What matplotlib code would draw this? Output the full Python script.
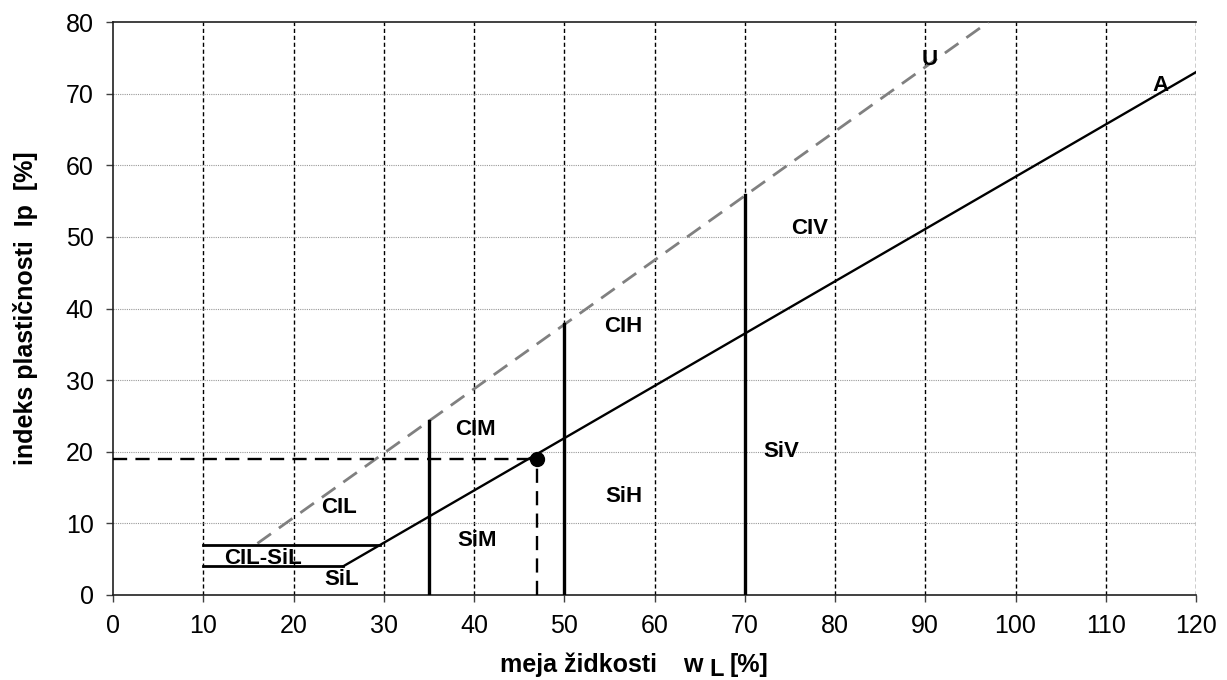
import matplotlib
matplotlib.use("Agg")
import matplotlib.pyplot as plt

plt.rcParams['font.family'] = ['Liberation Sans', 'DejaVu Sans']

# Data
a_line_x = [25.5, 120]
a_line_y = [4, 73]
u_line_x = [16, 97]
u_line_y = [7.2, 80]
low_h_x = [10, 25.5]
low_h_y = [4, 4]
up_h_x = [10, 29.6]
up_h_y = [7, 7]
vert_x = [35, 50, 70]
vert_top = [24.3, 37.8, 55.8]
point_x = 47
point_y = 19

zone_labels = ['U', 'A', 'CIV', 'CIH', 'CIM', 'SiV', 'SiH', 'CIL', 'SiM', 'CIL-SiL', 'SiL']
zone_x = [90.5, 116.1, 77.2, 56.5, 40.2, 74.0, 56.6, 25.0, 40.3, 16.65, 25.3]
zone_y = [74.8, 71.1, 51.2, 37.5, 23.1, 20.0, 13.7, 12.25, 7.6, 5.1, 2.1]

x_ticks = list(range(0, 121, 10))
y_ticks = list(range(0, 81, 10))

W, H = 1227, 680
fig = plt.figure(figsize=(W / 100, H / 100), dpi=100)
ax = fig.add_axes([113 / W, 1 - 595 / H, (1196 - 113) / W, (595 - 22) / H])
ax.set_xlim(0, 120)
ax.set_ylim(0, 80)

# grid
for xv in x_ticks[1:]:
    ax.axvline(xv, color='black', lw=1.0, ls=(0, (3, 2)), zorder=1)
for yv in y_ticks[1:-1]:
    ax.axhline(yv, color='#999999', lw=0.8, ls=(0, (1, 1)), zorder=1)

# lines
ax.plot(u_line_x, u_line_y, color='#808080', lw=2.0, ls=(0, (6, 3.5)), zorder=3)
ax.plot(a_line_x, a_line_y, color='black', lw=1.7, zorder=4)
ax.plot(low_h_x, low_h_y, color='black', lw=2.0, zorder=4)
ax.plot(up_h_x, up_h_y, color='black', lw=2.0, zorder=4)
for xv, top in zip(vert_x, vert_top):
    ax.plot([xv, xv], [0, top], color='black', lw=2.4, zorder=4)

# point with guides
ax.plot([0, point_x], [point_y, point_y], color='black', lw=1.7, ls=(0, (6, 3.5)), zorder=4)
ax.plot([point_x, point_x], [0, point_y], color='black', lw=1.7, ls=(0, (6, 3.5)), zorder=4)
ax.plot([point_x], [point_y], 'o', color='black', markersize=10, zorder=5)

for lab, xv, yv in zip(zone_labels, zone_x, zone_y):
    ax.text(xv, yv, lab, ha='center', va='center', fontsize=16, fontweight='bold', zorder=6)

ax.set_xticks(x_ticks)
ax.set_yticks(y_ticks)
ax.tick_params(axis='both', direction='out', length=5, width=1, colors='#404040',
               labelcolor='black', labelsize=18, pad=9)
for s in ['left', 'bottom', 'top']:
    ax.spines[s].set_color('#202020')
    ax.spines[s].set_linewidth(1.2)
ax.spines['right'].set_visible(False)

# axis titles
fs_lab = 18
fig.text(26 / W, 1 - 308 / H, 'indeks plastičnosti  Ip  [%]', rotation=90,
         ha='center', va='center', fontsize=fs_lab, fontweight='bold')
base = 1 - 672 / H
fig.text(500 / W, base, 'meja židkosti', ha='left', va='baseline', fontsize=fs_lab, fontweight='bold')
fig.text(683 / W, base, 'w', ha='left', va='baseline', fontsize=fs_lab, fontweight='bold')
fig.text(709 / W, base - 4 / H, 'L', ha='left', va='baseline', fontsize=17, fontweight='bold')
fig.text(730 / W, base, '[%]', ha='left', va='baseline', fontsize=fs_lab, fontweight='bold')

fig.savefig('out.png', dpi=100)
